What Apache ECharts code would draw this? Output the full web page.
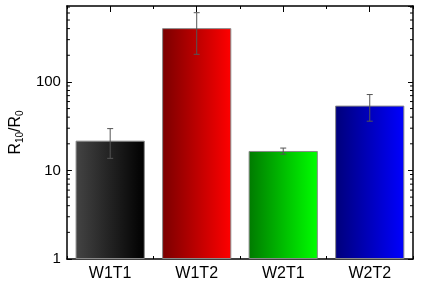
<!DOCTYPE html>
<html><head><meta charset="utf-8">
<script src="https://cdn.jsdelivr.net/npm/echarts@6/dist/echarts.min.js"></script>
<style>html,body{margin:0;padding:0;background:#fff}#c{width:421px;height:285px}</style>
</head><body><div id="c"></div>
<script>
const categories = ['W1T1', 'W1T2', 'W2T1', 'W2T2'];
const values = [21.7, 405, 16.6, 54];
const errors = [8, 200, 1.3, 18];
const barColorsDark = ['#444444', '#7a0000', '#007a00', '#00007a'];
const barColorsLight = ['#000000', '#ff0000', '#00ff00', '#0000ff'];
const minorTickValues = [2,3,4,5,6,7,8,9,20,30,40,50,60,70,80,90,200,300,400,500,600,700];
const yMin = 1, yMax = 720;

const chart = echarts.init(document.getElementById('c'), null, {renderer: 'canvas'});
const font = 'Liberation Sans, Arial, sans-serif';

const barData = values.map((v, i) => ({
  value: v,
  itemStyle: {
    color: new echarts.graphic.LinearGradient(0, 0, 1, 0, [
      {offset: 0, color: barColorsDark[i]},
      {offset: 1, color: barColorsLight[i]}
    ])
  }
}));
const errData = values.map((v, i) => [i, v - errors[i], v + errors[i]]);
const minorData = minorTickValues.map(v => [0, v]);

const catAxisBase = {
  type: 'category', data: categories, boundaryGap: true,
  axisLine: {show: true, lineStyle: {color: '#000', width: 1.5}},
  splitLine: {show: false}
};
const logAxisBase = {
  type: 'log', logBase: 10, min: yMin, max: yMax,
  axisLine: {show: true, lineStyle: {color: '#000', width: 1.5}},
  axisTick: {show: true, inside: true, length: 5, lineStyle: {color: '#000', width: 1}},
  splitLine: {show: false}
};

chart.setOption({
  animation: false,
  grid: {left: 66, right: 8, top: 6, bottom: 26, containLabel: false},
  xAxis: [
    Object.assign({}, catAxisBase, {position: 'bottom',
      axisTick: {show: true, inside: true, alignWithLabel: true, length: 6, lineStyle: {color: '#000', width: 1}},
      axisLabel: {show: true, color: '#000', fontSize: 16, fontFamily: font, margin: 7}}),
    Object.assign({}, catAxisBase, {position: 'bottom',
      axisLine: {show: false},
      axisTick: {show: true, inside: true, length: 3, lineStyle: {color: '#000', width: 1}},
      axisLabel: {show: false}}),
    Object.assign({}, catAxisBase, {position: 'top',
      axisTick: {show: true, inside: true, alignWithLabel: true, length: 6, lineStyle: {color: '#000', width: 1}},
      axisLabel: {show: false}}),
    Object.assign({}, catAxisBase, {position: 'top',
      axisLine: {show: false},
      axisTick: {show: true, inside: true, length: 3, lineStyle: {color: '#000', width: 1}},
      axisLabel: {show: false}})
  ],
  yAxis: [
    Object.assign({}, logAxisBase, {position: 'left',
      axisLabel: {show: true, color: '#000', fontSize: 15, fontFamily: font, margin: 6, showMaxLabel: false},
      name: '{n|R}{s|10}{n|/R}{s|0}',
      nameLocation: 'middle', nameGap: 38, nameRotate: 90,
      nameTextStyle: {
        rich: {
          n: {fontSize: 16, fontFamily: font, color: '#000'},
          s: {fontSize: 10, fontFamily: font, color: '#000', verticalAlign: 'bottom', padding: [8, 0, 0, 0]}
        }
      }}),
    Object.assign({}, logAxisBase, {position: 'right', axisLabel: {show: false}})
  ],
  series: [
    {
      type: 'bar', xAxisIndex: 0, yAxisIndex: 0, data: barData, barWidth: '80%',
      itemStyle: {borderColor: '#888', borderWidth: 1}
    },
    {
      type: 'custom', xAxisIndex: 0, yAxisIndex: 0, data: errData, z: 5,
      renderItem: function (params, api) {
        const x = api.coord([api.value(0), api.value(1)])[0];
        const lo = api.coord([api.value(0), api.value(1)])[1];
        const hi = api.coord([api.value(0), api.value(2)])[1];
        const hw = 3;
        const st = {stroke: '#555', lineWidth: 1};
        return {type: 'group', children: [
          {type: 'line', shape: {x1: x, y1: lo, x2: x, y2: hi}, style: st},
          {type: 'line', shape: {x1: x - hw, y1: lo, x2: x + hw, y2: lo}, style: st},
          {type: 'line', shape: {x1: x - hw, y1: hi, x2: x + hw, y2: hi}, style: st}
        ]};
      }
    },
    {
      type: 'custom', xAxisIndex: 0, yAxisIndex: 0, data: minorData, z: 6, silent: true,
      renderItem: function (params, api) {
        const y = api.coord([0, api.value(1)])[1];
        const cs = params.coordSys;
        const st = {stroke: '#000', lineWidth: 1};
        return {type: 'group', children: [
          {type: 'line', shape: {x1: cs.x, y1: y, x2: cs.x + 3, y2: y}, style: st},
          {type: 'line', shape: {x1: cs.x + cs.width - 3, y1: y, x2: cs.x + cs.width, y2: y}, style: st}
        ]};
      }
    }
  ]
});
</script></body></html>
